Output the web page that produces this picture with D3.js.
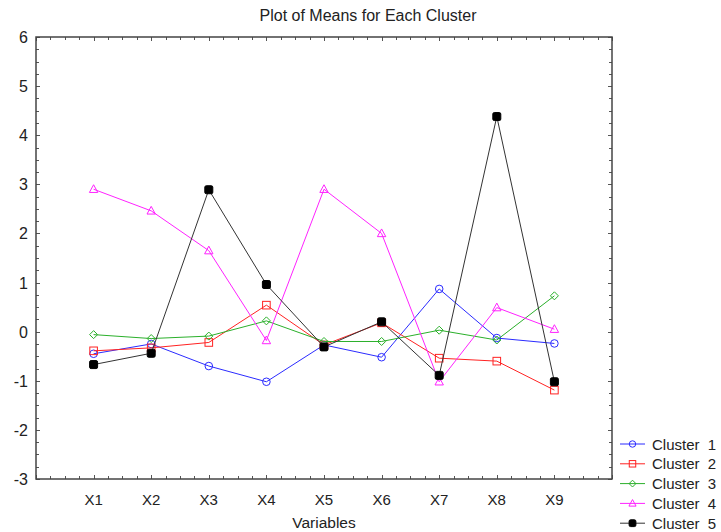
<!DOCTYPE html>
<html>
<head>
<meta charset="utf-8">
<script src="https://cdn.jsdelivr.net/npm/d3@7"></script>
<style>
  body { margin: 0; background: #fff; }
  svg { display: block; font-family: "Liberation Sans", Arial, sans-serif; }
</style>
</head>
<body>
<svg id="chart" width="721" height="532"></svg>
<script>
// Variables on the x axis
const variables = ["X1", "X2", "X3", "X4", "X5", "X6", "X7", "X8", "X9"];
const clusterNames = ["Cluster  1", "Cluster  2", "Cluster  3", "Cluster  4", "Cluster  5"];

// Cluster means
const cluster1 = [-0.45, -0.25, -0.70, -1.02, -0.27, -0.52, 0.87, -0.13, -0.24];
const cluster2 = [-0.39, -0.33, -0.22, 0.54, -0.27, 0.18, -0.54, -0.60, -1.19];
const cluster3 = [-0.06, -0.14, -0.09, 0.22, -0.20, -0.20, 0.03, -0.17, 0.73];
const cluster4 = [2.90, 2.46, 1.65, -0.18, 2.90, 2.00, -1.02, 0.49, 0.05];
const cluster5 = [-0.67, -0.44, 2.89, 0.96, -0.31, 0.20, -0.89, 4.38, -1.02];

const yTicks = [6, 5, 4, 3, 2, 1, 0, -1, -2, -3];

const series = [
    { name: clusterNames[0], values: cluster1, color: "#2b2bff", marker: "circle" },
    { name: clusterNames[1], values: cluster2, color: "#ff2222", marker: "square" },
    { name: clusterNames[2], values: cluster3, color: "#2bb02b", marker: "diamond" },
    { name: clusterNames[3], values: cluster4, color: "#ff22ff", marker: "triangle" },
    { name: clusterNames[4], values: cluster5, color: "#333333", marker: "filled" }
];

const svg = d3.select("#chart");
const plot = { left: 36, right: 612, top: 37, bottom: 479 };

const x = d3.scaleLinear().domain([0, 10]).range([plot.left, plot.right]);
const y = d3.scaleLinear().domain([-3, 6]).range([plot.bottom, plot.top]);

// title
svg.append("text")
    .attr("x", 368).attr("y", 21)
    .attr("text-anchor", "middle")
    .attr("font-size", 16)
    .attr("fill", "#222")
    .text("Plot of Means for Each Cluster");

// minor ticks every 0.25 on all four sides, pointing inward
const minorX = d3.range(0, 10.001, 0.25);
const minorY = d3.range(-3, 6.001, 0.25);
const tickColor = "#555";

function tickLen(v) { return Math.abs(v - Math.round(v)) < 1e-6 ? 4 : 3 }

const ticks = svg.append("g").attr("stroke", tickColor).attr("stroke-width", 1);
minorX.forEach(v => {
    const px = Math.round(x(v)) + 0.5;
    ticks.append("line").attr("x1", px).attr("x2", px)
        .attr("y1", plot.bottom).attr("y2", plot.bottom - tickLen(v));
    ticks.append("line").attr("x1", px).attr("x2", px)
        .attr("y1", plot.top).attr("y2", plot.top + tickLen(v));
});
minorY.forEach(v => {
    const py = Math.round(y(v)) + 0.5;
    ticks.append("line").attr("x1", plot.left).attr("x2", plot.left + tickLen(v))
        .attr("y1", py).attr("y2", py);
    ticks.append("line").attr("x1", plot.right).attr("x2", plot.right - tickLen(v))
        .attr("y1", py).attr("y2", py);
});

// frame
svg.append("rect")
    .attr("x", plot.left).attr("y", plot.top)
    .attr("width", plot.right - plot.left).attr("height", plot.bottom - plot.top)
    .attr("fill", "none").attr("stroke", "#444").attr("stroke-width", 1.5);

// y labels
svg.append("g").selectAll("text").data(yTicks).join("text")
    .attr("x", 28).attr("y", d => y(d) + 6)
    .attr("text-anchor", "end")
    .attr("font-size", 16)
    .attr("fill", "#222")
    .text(d => d);

// x labels
svg.append("g").selectAll("text").data(variables).join("text")
    .attr("x", (d, i) => x(i + 1)).attr("y", 505)
    .attr("text-anchor", "middle")
    .attr("font-size", 15)
    .attr("fill", "#222")
    .text(d => d);

svg.append("text")
    .attr("x", (plot.left + plot.right) / 2).attr("y", 528)
    .attr("text-anchor", "middle")
    .attr("font-size", 15.5)
    .attr("fill", "#222")
    .text("Variables");

function drawMarker(g, type, color, cx, cy, s = 1) {
    if (type === "circle") {
        g.append("circle").attr("cx", cx).attr("cy", cy).attr("r", 3.8 * s)
            .attr("fill", "none").attr("stroke", color);
    } else if (type === "square") {
        g.append("rect").attr("x", cx - 3.8 * s).attr("y", cy - 3.8 * s)
            .attr("width", 7.6 * s).attr("height", 7.6 * s)
            .attr("fill", "none").attr("stroke", color);
    } else if (type === "diamond") {
        const r = 4 * s;
        g.append("path").attr("d", `M${cx},${cy - r}L${cx + r},${cy}L${cx},${cy + r}L${cx - r},${cy}Z`)
            .attr("fill", "none").attr("stroke", color);
    } else if (type === "triangle") {
        g.append("path").attr("d", `M${cx},${cy - 4.5 * s}L${cx + 4.2 * s},${cy + 3.2 * s}L${cx - 4.2 * s},${cy + 3.2 * s}Z`)
            .attr("fill", "none").attr("stroke", color);
    } else {
        g.append("rect").attr("x", cx - 4 * s).attr("y", cy - 4 * s)
            .attr("width", 8 * s).attr("height", 8 * s)
            .attr("rx", 1.5).attr("fill", "#000").attr("stroke", "#000");
    }
}

const line = d3.line().x((d, i) => x(i + 1)).y(d => y(d));

series.forEach(s => {
    const g = svg.append("g");
    g.append("path").attr("d", line(s.values))
        .attr("fill", "none").attr("stroke", s.color).attr("stroke-width", 1);
    s.values.forEach((v, i) => drawMarker(g, s.marker, s.color, x(i + 1), y(v)));
});

// legend
const legend = svg.append("g");
series.forEach((s, i) => {
    const ly = 444 + i * 19.8;
    legend.append("line").attr("x1", 620).attr("x2", 645).attr("y1", ly).attr("y2", ly)
        .attr("stroke", s.color).attr("stroke-width", 1);
    drawMarker(legend, s.marker, s.color, 632.5, ly, 0.85);
    legend.append("text")
        .attr("x", 652).attr("y", ly + 5.5)
        .attr("font-size", 15)
        .attr("fill", "#222")
        .style("white-space", "pre")
        .text(s.name);
});
</script>
</body>
</html>
